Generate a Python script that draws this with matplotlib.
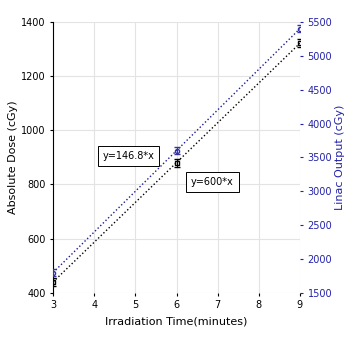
import numpy as np
import matplotlib.pyplot as plt

# irradiation time (minutes) and measured values
time_min = [3, 6, 9]
abs_dose = [440.4, 880.8, 1321.2]
dose_err = [15, 15, 15]
linac_out = [1800, 3600, 5400]
linac_err = [50, 50, 50]

dose_slope = 146.8
linac_slope = 600

fig = plt.figure(figsize=(3.52, 3.37), dpi=100)
ax = fig.add_axes([0.151, 0.131, 0.701, 0.804])

xs = np.array([time_min[0], time_min[-1]])
ax.plot(xs, dose_slope * xs, ':', color='black', lw=1)
ax.errorbar(time_min, abs_dose, yerr=dose_err, fmt='s', ms=3, mfc='none',
            mec='black', ecolor='black', capsize=2, lw=0.8)

ax.set_xlim(3, 9)
ax.set_ylim(400, 1400)
ax.set_xticks([3, 4, 5, 6, 7, 8, 9])
ax.set_yticks([400, 600, 800, 1000, 1200, 1400])
ax.grid(True, color='#e3e3e3', lw=0.8)
ax.set_xlabel('Irradiation Time(minutes)', fontsize=8, labelpad=4)
ax.set_ylabel('Absolute Dose (cGy)', fontsize=8, labelpad=2)
ax.tick_params(labelsize=7, length=2)
for s in ['top', 'right', 'bottom']:
    ax.spines[s].set_visible(False)

ax2 = ax.twinx()
ax2.plot(xs, linac_slope * xs, ':', color='#1a1a99', lw=1)
ax2.errorbar(time_min, linac_out, yerr=linac_err, fmt='o', ms=3, mfc='none',
             mec='#3333aa', ecolor='#3333aa', capsize=2, lw=0.8)
ax2.set_ylim(1500, 5500)
ax2.set_yticks([1500, 2000, 2500, 3000, 3500, 4000, 4500, 5000, 5500])
ax2.set_ylabel('Linac Output (cGy)', fontsize=8, color='#2222aa', labelpad=2)
ax2.tick_params(labelsize=7, length=2, colors='#2222aa')
for s in ax2.spines.values():
    s.set_visible(False)

ax.text(4.2, 905, 'y=146.8*x', fontsize=7, va='center',
        bbox=dict(boxstyle='square,pad=0.5', fc='white', ec='black', lw=0.7))
ax.text(6.35, 810, 'y=600*x', fontsize=7, va='center',
        bbox=dict(boxstyle='square,pad=0.5', fc='white', ec='black', lw=0.7))

fig.savefig('out.png', dpi=100)
